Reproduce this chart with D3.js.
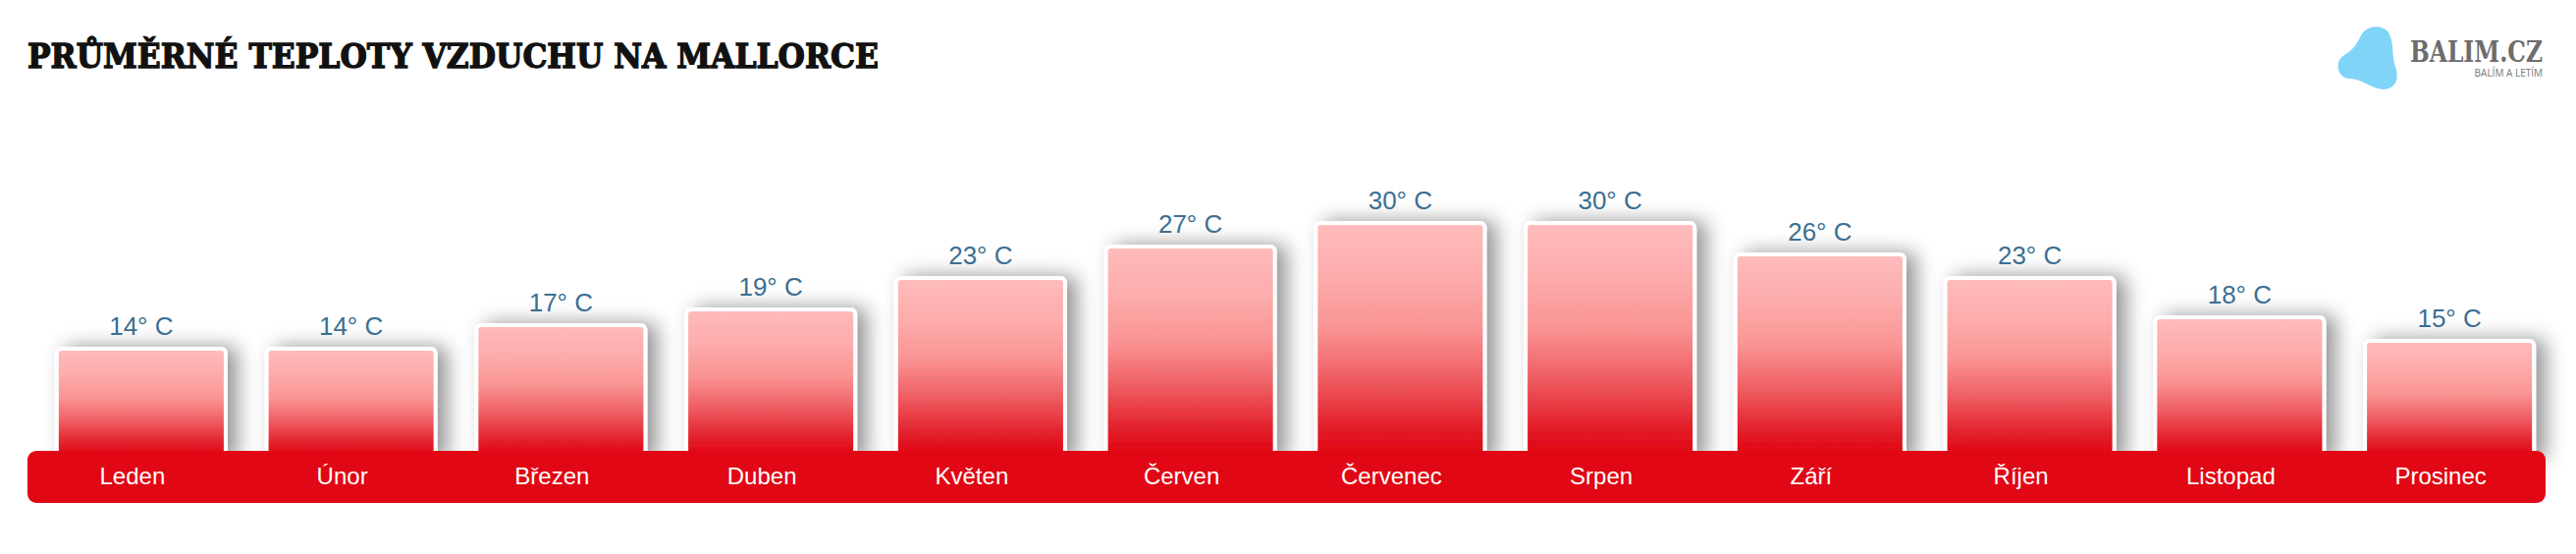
<!DOCTYPE html>
<html>
<head>
<meta charset="utf-8">
<script src="https://cdn.jsdelivr.net/npm/d3@7"></script>
<style>
  html, body { margin: 0; padding: 0; background: #ffffff; }
  svg { display: block; }
</style>
</head>
<body>
<svg id="chart" width="2624" height="564"></svg>
<script>
// ---- data ----
const months = ["Leden", "Únor", "Březen", "Duben", "Květen", "Červen", "Červenec", "Srpen", "Září", "Říjen", "Listopad", "Prosinec"];
const temps = [14, 14, 17, 19, 23, 27, 30, 30, 26, 23, 18, 15];
const unitSuffix = "° C";
const titleText = "PRŮMĚRNÉ TEPLOTY VZDUCHU NA MALLORCE";
const brandName = "BALIM.CZ";
const brandTagline = "BALÍM A LETÍM";

const svg = d3.select("#chart");
const defs = svg.append("defs");

// gradient for bars
const grad = defs.append("linearGradient")
  .attr("id", "barGrad").attr("x1", 0).attr("y1", 0).attr("x2", 0).attr("y2", 1);
[[0, "#ffbcbc"], [0.25, "#fdaaaa"], [0.45, "#fa9393"], [0.65, "#ef6065"], [0.85, "#e3232e"], [0.95, "#e10a17"], [1, "#e10a17"]]
  .forEach(([o, c]) => grad.append("stop").attr("offset", o).attr("stop-color", c));

// shadow filter
const f = defs.append("filter").attr("id", "shadow")
  .attr("x", "-30%").attr("y", "-30%").attr("width", "170%").attr("height", "160%");
f.append("feDropShadow").attr("dx", 10).attr("dy", 0).attr("stdDeviation", 10)
  .attr("flood-color", "#000").attr("flood-opacity", 0.42);

// ---- scales ----
const xBand = d3.scaleBand().domain(months).range([28, 2593]);
const xBar = d3.scaleBand().domain(months).range([37, 2602]).paddingInner(0.195).paddingOuter(0.0975);
const y = d3.scaleLinear().domain([0, 30]).range([467, 227]);

// ---- bars ----
const bars = svg.append("g");
bars.selectAll("rect.bar")
  .data(months.map((m, i) => ({ m, v: temps[i] })))
  .join("rect")
  .attr("class", "bar")
  .attr("x", d => xBar(d.m))
  .attr("y", d => y(d.v))
  .attr("width", xBar.bandwidth())
  .attr("height", d => y(0) - y(d.v))
  .attr("rx", 5)
  .attr("fill", "url(#barGrad)")
  .attr("stroke", "#ffffff")
  .attr("stroke-width", 4)
  .attr("filter", "url(#shadow)");

// value labels
svg.append("g").selectAll("text")
  .data(months.map((m, i) => ({ m, v: temps[i] })))
  .join("text")
  .attr("x", d => xBar(d.m) + xBar.bandwidth() / 2)
  .attr("y", d => y(d.v) - 14)
  .attr("text-anchor", "middle")
  .attr("font-family", "'Liberation Sans', Arial, sans-serif")
  .attr("font-size", 26)
  .attr("fill", "#3b6f93")
  .text(d => d.v + unitSuffix);

// ---- bottom band (category axis) ----
svg.append("rect")
  .attr("x", xBand.range()[0])
  .attr("y", 459)
  .attr("width", xBand.range()[1] - xBand.range()[0])
  .attr("height", 53)
  .attr("rx", 9)
  .attr("fill", "#e10715");

const axis = d3.axisBottom(xBand).tickSize(0).tickPadding(0);
const axG = svg.append("g").attr("transform", "translate(0,475)").call(axis);
axG.select(".domain").remove();
axG.selectAll("text")
  .attr("font-family", "'Liberation Sans', Arial, sans-serif")
  .attr("font-size", 24)
  .attr("fill", "#ffffff")
  .attr("dy", 0)
  .attr("y", 18);

// ---- title ----
svg.append("text")
  .attr("x", 28).attr("y", 69)
  .attr("font-family", "'DejaVu Serif', serif")
  .attr("font-weight", "bold")
  .attr("font-size", 33)
  .attr("fill", "#111111")
  .attr("stroke", "#111111")
  .attr("stroke-width", 1.3)
  .attr("textLength", 867)
  .attr("lengthAdjust", "spacingAndGlyphs")
  .text(titleText);

// ---- logo ----
svg.append("path")
  .attr("d", "M 2405,36 C 2411,25 2429,24 2434,35 C 2439,46 2436,57 2440,68 C 2446,84 2436,94 2422,90 C 2412,87 2404,80 2392,80 C 2380,78 2378,62 2388,56 C 2398,50 2401,44 2405,36 Z")
  .attr("fill", "#80d4f8");

svg.append("text")
  .attr("x", 2455).attr("y", 63)
  .attr("font-family", "'DejaVu Serif', serif")
  .attr("font-weight", "bold")
  .attr("font-size", 29)
  .attr("fill", "#6d6d6d")
  .attr("textLength", 135)
  .attr("lengthAdjust", "spacingAndGlyphs")
  .text(brandName);

svg.append("text")
  .attr("x", 2590).attr("y", 78)
  .attr("text-anchor", "end")
  .attr("font-family", "'Open Sans', sans-serif")
  .attr("font-size", 10)
  .attr("fill", "#777777")
  .text(brandTagline);
</script>
</body>
</html>
